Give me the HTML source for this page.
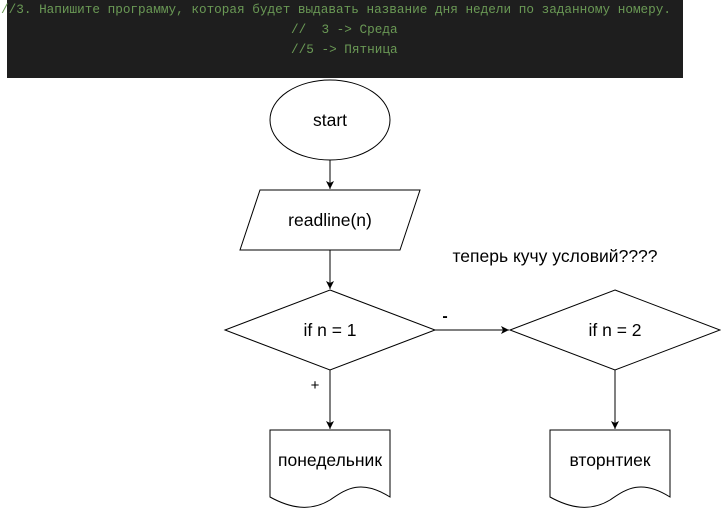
<!DOCTYPE html>
<html><head><meta charset="utf-8"><style>
body{margin:0;width:721px;height:511px;background:#fff;overflow:hidden;position:relative}
.code{position:absolute;left:7px;top:0;width:676px;height:78px;background:#1e1e1e;color:#6a9955;font:12.7px "Liberation Mono","DejaVu Sans Mono",monospace;}
.code div{position:absolute;white-space:pre}
svg{position:absolute;left:0;top:0}
text{font-family:"Liberation Sans",Arial,sans-serif;font-size:17.5px;fill:#000}
</style></head><body>
<div class="code">
<div style="left:-6px;top:2px">//3. Напишите программу, которая будет выдавать название дня недели по заданному номеру.</div>
<div style="left:284px;top:22px">//  3 -&gt; Среда</div>
<div style="left:284px;top:42px">//5 -&gt; Пятница</div>
</div>
<svg width="721" height="511" viewBox="0 0 721 511">
<defs><marker id="a" markerWidth="10" markerHeight="10" refX="9" refY="5" orient="auto" markerUnits="userSpaceOnUse"><path d="M1,1 L9,5 L1,9 L3,5 z" fill="#000"/></marker></defs>
<g fill="#fff" stroke="#000" stroke-width="1">
<ellipse cx="330" cy="120" rx="60" ry="40"/>
<polygon points="260,190 420,190 400,250 240,250"/>
<polygon points="330,290 435,330 330,370 225,330"/>
<polygon points="615,290 720,330 615,370 510,330"/>
<path d="M270,430 H390 V497 C360,478 345,490 330,500 C310,512 290,508 270,497 Z"/>
<path d="M550,430 H670 V497 C640,478 625,490 610,500 C590,512 570,508 550,497 Z"/>
<line x1="330" y1="160" x2="330" y2="189" marker-end="url(#a)"/>
<line x1="330" y1="250" x2="330" y2="289" marker-end="url(#a)"/>
<line x1="435" y1="330" x2="509" y2="330" marker-end="url(#a)"/>
<line x1="330" y1="370" x2="330" y2="429" marker-end="url(#a)"/>
<line x1="615" y1="370" x2="615" y2="429" marker-end="url(#a)"/>
</g>
<text x="330" y="126" text-anchor="middle">start</text>
<text x="330" y="226" text-anchor="middle">readline(n)</text>
<text x="330" y="336" text-anchor="middle">if n = 1</text>
<text x="615" y="336" text-anchor="middle">if n = 2</text>
<text x="330" y="466" text-anchor="middle">понедельник</text>
<text x="610" y="466" text-anchor="middle">вторнтиек</text>
<text x="555" y="262" text-anchor="middle">теперь кучу условий????</text>
<text x="445" y="321" text-anchor="middle" style="font-size:16px;font-weight:bold">-</text>
<text x="315" y="390" text-anchor="middle" style="font-size:15px">+</text>
</svg>
</body></html>
